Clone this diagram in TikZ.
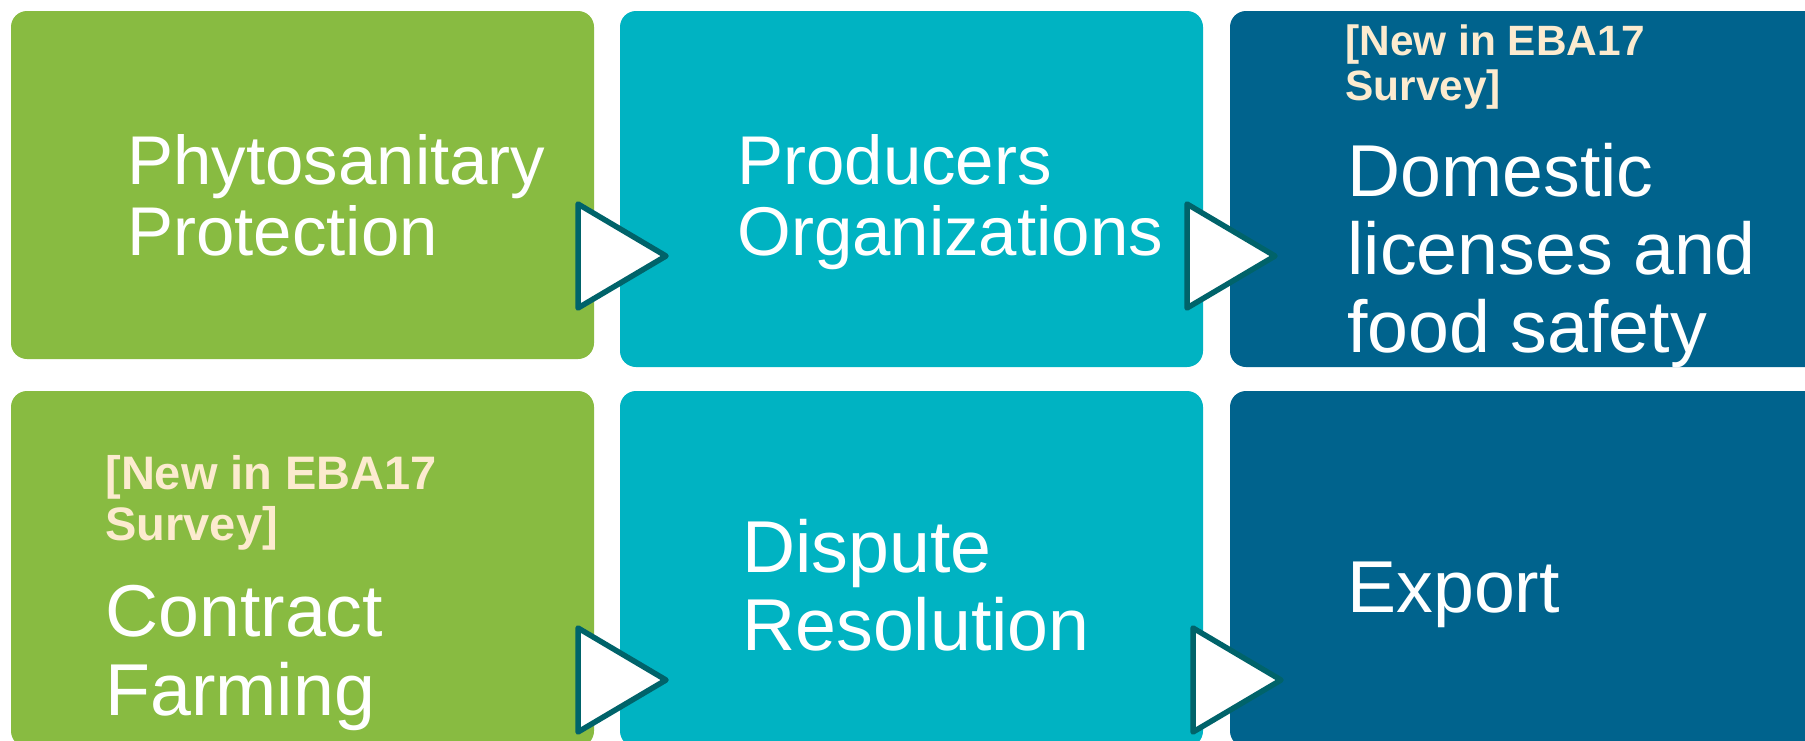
\documentclass[tikz,border=0pt]{standalone}
\usepackage{fontspec}
\setmainfont{Liberation Sans}
\usepackage{tikz}
\usetikzlibrary{positioning,calc}
\definecolor{leaf}{HTML}{88BB41}
\definecolor{lagoon}{HTML}{00B3C2}
\definecolor{ocean}{HTML}{00638D}
\definecolor{pine}{HTML}{00636A}
\definecolor{cream}{HTML}{FCEBCF}
\def\pointer#1#2{\draw[chev] (#1,#2) -- ++(88,52) -- ++(-88,52) -- cycle;}

\tikzset{
  tile/.style={fill=#1, rounded corners=8pt, minimum width=291.5pt, minimum height=178pt,
    inner sep=0pt, outer sep=0pt, anchor=north west},
  label/.style={text=white, anchor=base west, align=left, inner sep=0pt,
    font=\fontsize{36.75}{39.5}\selectfont},
  tag/.style={text=cream, anchor=base west, align=left, inner sep=0pt},
  chev/.style={fill=white, draw=pine, line width=2.75pt, line join=round}
}

\begin{document}
\begin{tikzpicture}[x=0.5pt, y=-0.5pt]
\useasboundingbox (0,0) rectangle (1805,740);
\clip (0,0) rectangle (1805,740);
\node[tile=leaf, minimum height=174pt] (phyto) at (11,11) {};
\node[tile=lagoon, right=13pt of phyto.north east, anchor=north west] (prod) {};
\node[tile=ocean, minimum width=300pt, right=13.5pt of prod.north east, anchor=north west] (dom) {};
\node[tile=leaf, below=16pt of phyto.south west, anchor=north west] (contr) {};
\node[tile=lagoon, below=12pt of prod.south west, anchor=north west] (disp) {};
\node[tile=ocean, minimum width=300pt, below=12pt of dom.south west, anchor=north west] (exp) {};

% texts sit on the baseline of their last line
\node[label, font=\fontsize{34.5}{35.5}\selectfont] (phytoT) at (127,255) {Phytosanitary\\Protection};
\node[label, font=\fontsize{34.5}{35.5}\selectfont] (prodT) at (737,255) {Producers\\Organizations};
\node[tag, font=\bfseries\fontsize{21.2}{22.5}\selectfont] (domN) at (1345,100) {[New in EBA17\\Survey]};
\node[label, font=\fontsize{36.75}{39}\selectfont] (domT) at (1347,352) {Domestic\\licenses and\\food safety};
\node[tag, font=\bfseries\fontsize{23.5}{25.5}\selectfont] (contrN) at (105,540) {[New in EBA17\\Survey]};
\node[label] (contrT) at (105,715) {Contract\\Farming};
\node[label, font=\fontsize{36.75}{39}\selectfont] (dispT) at (742,650) {Dispute\\Resolution};
\node[label] (expT) at (1347,612) {Export};

\pointer{578}{204}
\pointer{1187}{204}
\pointer{578}{628}
\pointer{1193}{628}
\end{tikzpicture}
\end{document}
